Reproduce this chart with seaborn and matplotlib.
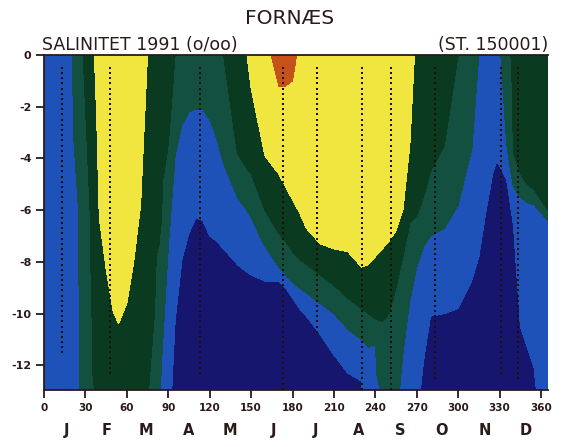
import numpy as np
import pandas as pd
import matplotlib
matplotlib.use("Agg")
import matplotlib.pyplot as plt
import matplotlib.tri as mtri
import matplotlib.transforms as mtrans
import seaborn as sns

# ---------------- data ----------------
# colour classes (0 navy ... 5 orange);
# each profile: (depth m, class value) knots, class boundaries at integers
profile_days = [0, 10, 20, 25, 30, 35, 40, 45, 50, 54, 60, 65, 70, 75, 80, 85, 90, 95,
                100, 105, 110, 115, 120, 125, 130, 140, 147, 150, 160, 170, 175, 180,
                185, 190, 200, 210, 220, 230, 235, 240, 245, 250, 255, 260, 265, 270,
                275, 280, 290, 300, 310, 315, 320, 325, 328, 330, 335, 340, 345, 350,
                355, 360, 365]
profile_knots = [
    [(0, 1.5), (13, 1.5)],
    [(0, 1.5), (13, 1.5)],
    [(0, 1.95), (5, 1.7), (13, 1.6)],
    [(0, 2.6), (6, 2.0), (13, 1.9)],
    [(0, 3.2), (6, 2.6), (13, 2.4)],
    [(0, 3.8), (6, 3.2), (13, 2.9)],
    [(0, 4.5), (6.3, 4.0), (13, 3.2)],
    [(0, 4.5), (8.3, 4.0), (13, 3.5)],
    [(0, 4.5), (9.9, 4.0), (13, 3.5)],
    [(0, 4.5), (10.4, 4.0), (13, 3.5)],
    [(0, 4.5), (9.6, 4.0), (13, 3.5)],
    [(0, 4.5), (8.0, 4.0), (13, 3.5)],
    [(0, 4.5), (5.8, 4.0), (13, 3.4)],
    [(0, 4.0), (6, 3.6), (13, 3.05)],
    [(0, 3.6), (6, 3.4), (13, 2.7)],
    [(0, 3.5), (4, 3.3), (8, 2.8), (12, 2.0), (13, 1.9)],
    [(0, 3.4), (3.5, 3.0), (7.5, 2.0), (13, 1.2)],
    [(0, 3.0), (3.9, 2.0), (10.3, 1.0), (13, 0.8)],
    [(0, 2.7), (2.7, 2.0), (7.9, 1.0), (13, 0.5)],
    [(0, 2.6), (2.2, 2.0), (6.9, 1.0), (13, 0.5)],
    [(0, 2.6), (2.1, 2.0), (6.3, 1.0), (13, 0.5)],
    [(0, 2.6), (2.1, 2.0), (6.4, 1.0), (13, 0.5)],
    [(0, 2.7), (2.5, 2.0), (7.0, 1.0), (13, 0.5)],
    [(0, 2.9), (3.2, 2.0), (7.2, 1.0), (13, 0.5)],
    [(0, 3.0), (4.2, 2.0), (7.5, 1.0), (13, 0.5)],
    [(0, 3.5), (3.8, 3.0), (5.5, 2.0), (8.1, 1.0), (13, 0.5)],
    [(0, 4.0), (4.4, 3.0), (6.0, 2.0), (8.4, 1.0), (13, 0.5)],
    [(0, 4.3), (1.3, 4.0), (4.6, 3.0), (6.3, 2.0), (8.5, 1.0), (13, 0.5)],
    [(0, 4.6), (3.9, 4.0), (6.0, 3.0), (7.4, 2.0), (8.75, 1.0), (13, 0.5)],
    [(0, 5.5), (1.2, 5.0), (4.6, 4.0), (6.9, 3.0), (8.2, 2.0), (8.75, 1.0), (13, 0.5)],
    [(0, 5.5), (1.2, 5.0), (5.1, 4.0), (7.2, 3.0), (8.5, 2.0), (9.0, 1.0), (13, 0.5)],
    [(0, 5.3), (1.0, 5.0), (5.6, 4.0), (7.6, 3.0), (8.8, 2.0), (9.4, 1.0), (13, 0.5)],
    [(0, 4.8), (6.1, 4.0), (7.9, 3.0), (9.0, 2.0), (9.8, 1.0), (13, 0.5)],
    [(0, 4.5), (6.7, 4.0), (8.1, 3.0), (9.2, 2.0), (10.1, 1.0), (13, 0.5)],
    [(0, 4.5), (7.3, 4.0), (8.5, 3.0), (9.6, 2.0), (10.8, 1.0), (13, 0.5)],
    [(0, 4.5), (7.5, 4.0), (8.9, 3.0), (10.0, 2.0), (11.6, 1.0), (13, 0.5)],
    [(0, 4.5), (7.6, 4.0), (9.4, 3.0), (10.6, 2.0), (12.3, 1.0), (13, 0.7)],
    [(0, 4.5), (8.2, 4.0), (9.8, 3.0), (11.0, 2.0), (12.6, 1.0), (13, 0.95)],
    [(0, 4.5), (8.1, 4.0), (10.0, 3.0), (11.3, 2.0), (13, 1.5)],
    [(0, 4.5), (7.8, 4.0), (10.2, 3.0), (11.2, 2.0), (13, 1.7)],
    [(0, 4.5), (7.5, 4.0), (10.3, 3.0), (13, 2.1)],
    [(0, 4.5), (7.2, 4.0), (10.0, 3.0), (13, 2.4)],
    [(0, 4.5), (6.8, 4.0), (9.0, 3.0), (13, 2.2)],
    [(0, 4.4), (6.0, 4.0), (7.8, 3.0), (11.5, 2.0), (13, 1.8)],
    [(0, 4.2), (3.5, 4.0), (6.5, 3.0), (9.5, 2.0), (13, 1.4)],
    [(0, 3.9), (6.2, 3.0), (8.2, 2.0), (13, 1.2)],
    [(0, 3.6), (5.5, 3.0), (7.4, 2.0), (11.8, 1.0), (13, 0.8)],
    [(0, 3.5), (4.5, 3.0), (7.0, 2.0), (10.1, 1.0), (13, 0.5)],
    [(0, 3.4), (3.5, 3.0), (6.7, 2.0), (10.0, 1.0), (13, 0.5)],
    [(0, 3.0), (5.8, 2.0), (9.8, 1.0), (13, 0.5)],
    [(0, 2.5), (3.6, 2.0), (8.7, 1.0), (13, 0.5)],
    [(0, 2.0), (7.8, 1.0), (13, 0.5)],
    [(0, 1.7), (6.1, 1.0), (13, 0.5)],
    [(0, 1.6), (4.6, 1.0), (13, 0.5)],
    [(0, 1.6), (4.1, 1.0), (13, 0.5)],
    [(0, 1.9), (4.3, 1.0), (13, 0.5)],
    [(0, 2.5), (3.4, 2.0), (4.8, 1.0), (13, 0.5)],
    [(0, 3.3), (3.8, 3.0), (5.1, 2.0), (6.6, 1.0), (13, 0.5)],
    [(0, 3.5), (4.6, 3.0), (5.5, 2.0), (10.5, 1.0), (13, 0.7)],
    [(0, 3.5), (5.0, 3.0), (5.7, 2.0), (11.3, 1.0), (13, 0.8)],
    [(0, 3.5), (5.2, 3.0), (5.8, 2.0), (12.1, 1.0), (13, 0.9)],
    [(0, 3.5), (5.6, 3.0), (6.1, 2.0), (13, 1.2)],
    [(0, 3.5), (6.0, 3.0), (6.4, 2.0), (13, 1.4)],
]
class_colors = ["#17166e", "#1f52b8", "#13503f", "#0a3a20", "#f1e63f", "#c4521a"]
class_levels = [-1, 1, 2, 3, 4, 5, 7]

# sampling stations (CTD profiles) : day, maximum depth
station_days = [13, 48, 113, 173, 198, 230, 251, 283, 331, 343]
station_maxdepth = [11.6, 12.4, 12.4, 12.9, 10.7, 12.9, 12.9, 12.5, 12.4, 12.5]
sample_step = 0.2

xtick_values = [0, 30, 60, 90, 120, 150, 180, 210, 240, 270, 300, 330, 360]
ytick_values = [0, -2, -4, -6, -8, -10, -12]
month_letters = ["J", "F", "M", "A", "M", "J", "J", "A", "S", "O", "N", "D"]
month_mid_days = [16, 45, 74, 105, 135, 166, 197, 228, 258, 288, 319, 349]

# ---------------- figure ----------------
sns.set_style("ticks")
plt.rcParams["font.family"] = ["DejaVu Sans"]
plt.rcParams["axes.unicode_minus"] = False

fig = plt.figure(figsize=(5.62, 4.47), dpi=100)
fig.patch.set_facecolor("white")
ax = fig.add_axes([0.0783, 0.1275, 0.8967, 0.7495])

# points of all profiles, and a strip-wise triangulation between neighbouring profiles
xs, ys, zs, col_idx = [], [], [], []
for d, knots in zip(profile_days, profile_knots):
    idx = []
    for dep, v in knots:
        idx.append(len(xs))
        xs.append(d)
        ys.append(-dep)
        zs.append(v)
    col_idx.append(idx)
xs = np.array(xs, float)
ys = np.array(ys, float)
zs = np.array(zs, float)

triangles = []
for A, B in zip(col_idx[:-1], col_idx[1:]):
    i = j = 0
    while i < len(A) - 1 or j < len(B) - 1:
        if i == len(A) - 1:
            triangles.append((A[i], B[j], B[j + 1])); j += 1
        elif j == len(B) - 1:
            triangles.append((A[i], B[j], A[i + 1])); i += 1
        elif -ys[A[i + 1]] <= -ys[B[j + 1]]:
            triangles.append((A[i], B[j], A[i + 1])); i += 1
        else:
            triangles.append((A[i], B[j], B[j + 1])); j += 1
tri = mtri.Triangulation(xs, ys, triangles=np.array(triangles))
ax.tricontourf(tri, zs, levels=class_levels, colors=class_colors, antialiased=False)

rows = []
for d, md in zip(station_days, station_maxdepth):
    for dep in np.arange(0.5, md + 1e-6, sample_step):
        rows.append({"day": d, "depth": -dep})
df_st = pd.DataFrame(rows)
sns.scatterplot(data=df_st, x="day", y="depth", marker="s", s=3.2, color="#1e0e0a",
                linewidth=0, ax=ax, legend=False, zorder=5)

ax.set_xlim(0, 365)
ax.set_ylim(-12.95, 0)
ax.set_xticks(xtick_values)
ax.set_xticklabels([str(v) for v in xtick_values], fontsize=7.5, fontweight="bold",
                   color="#2a1a1a")
ax.set_yticks(ytick_values)
ax.set_yticklabels([str(v) for v in ytick_values], fontsize=8, fontweight="bold",
                   color="#2a1a1a")
ax.tick_params(axis="both", direction="out", length=6, width=1.3, color="#2a1a1a", pad=3)
ax.set_xlabel("")
ax.set_ylabel("")
for side in ["left", "bottom", "top"]:
    ax.spines[side].set_color("#2a1a1a")
    ax.spines[side].set_linewidth(1.3)
ax.spines["right"].set_visible(False)

trans = mtrans.blended_transform_factory(ax.transData, fig.transFigure)
for letter, d in zip(month_letters, month_mid_days):
    ax.text(d, 0.038, letter, transform=trans, ha="center", va="center",
            fontsize=10.5, fontweight="bold", color="#2a1a1a")

fig.text(0.516, 0.958, "FORNÆS", ha="center", va="center", fontsize=14.5, color="#2a1a1a")
fig.text(0.0747, 0.888, "SALINITET 1991 (o/oo)", ha="left", va="baseline",
         fontsize=12.5, color="#2a1a1a")
fig.text(0.975, 0.888, "(ST. 150001)", ha="right", va="baseline",
         fontsize=12.5, color="#2a1a1a")

fig.savefig("out.png", dpi=100, facecolor="white")
